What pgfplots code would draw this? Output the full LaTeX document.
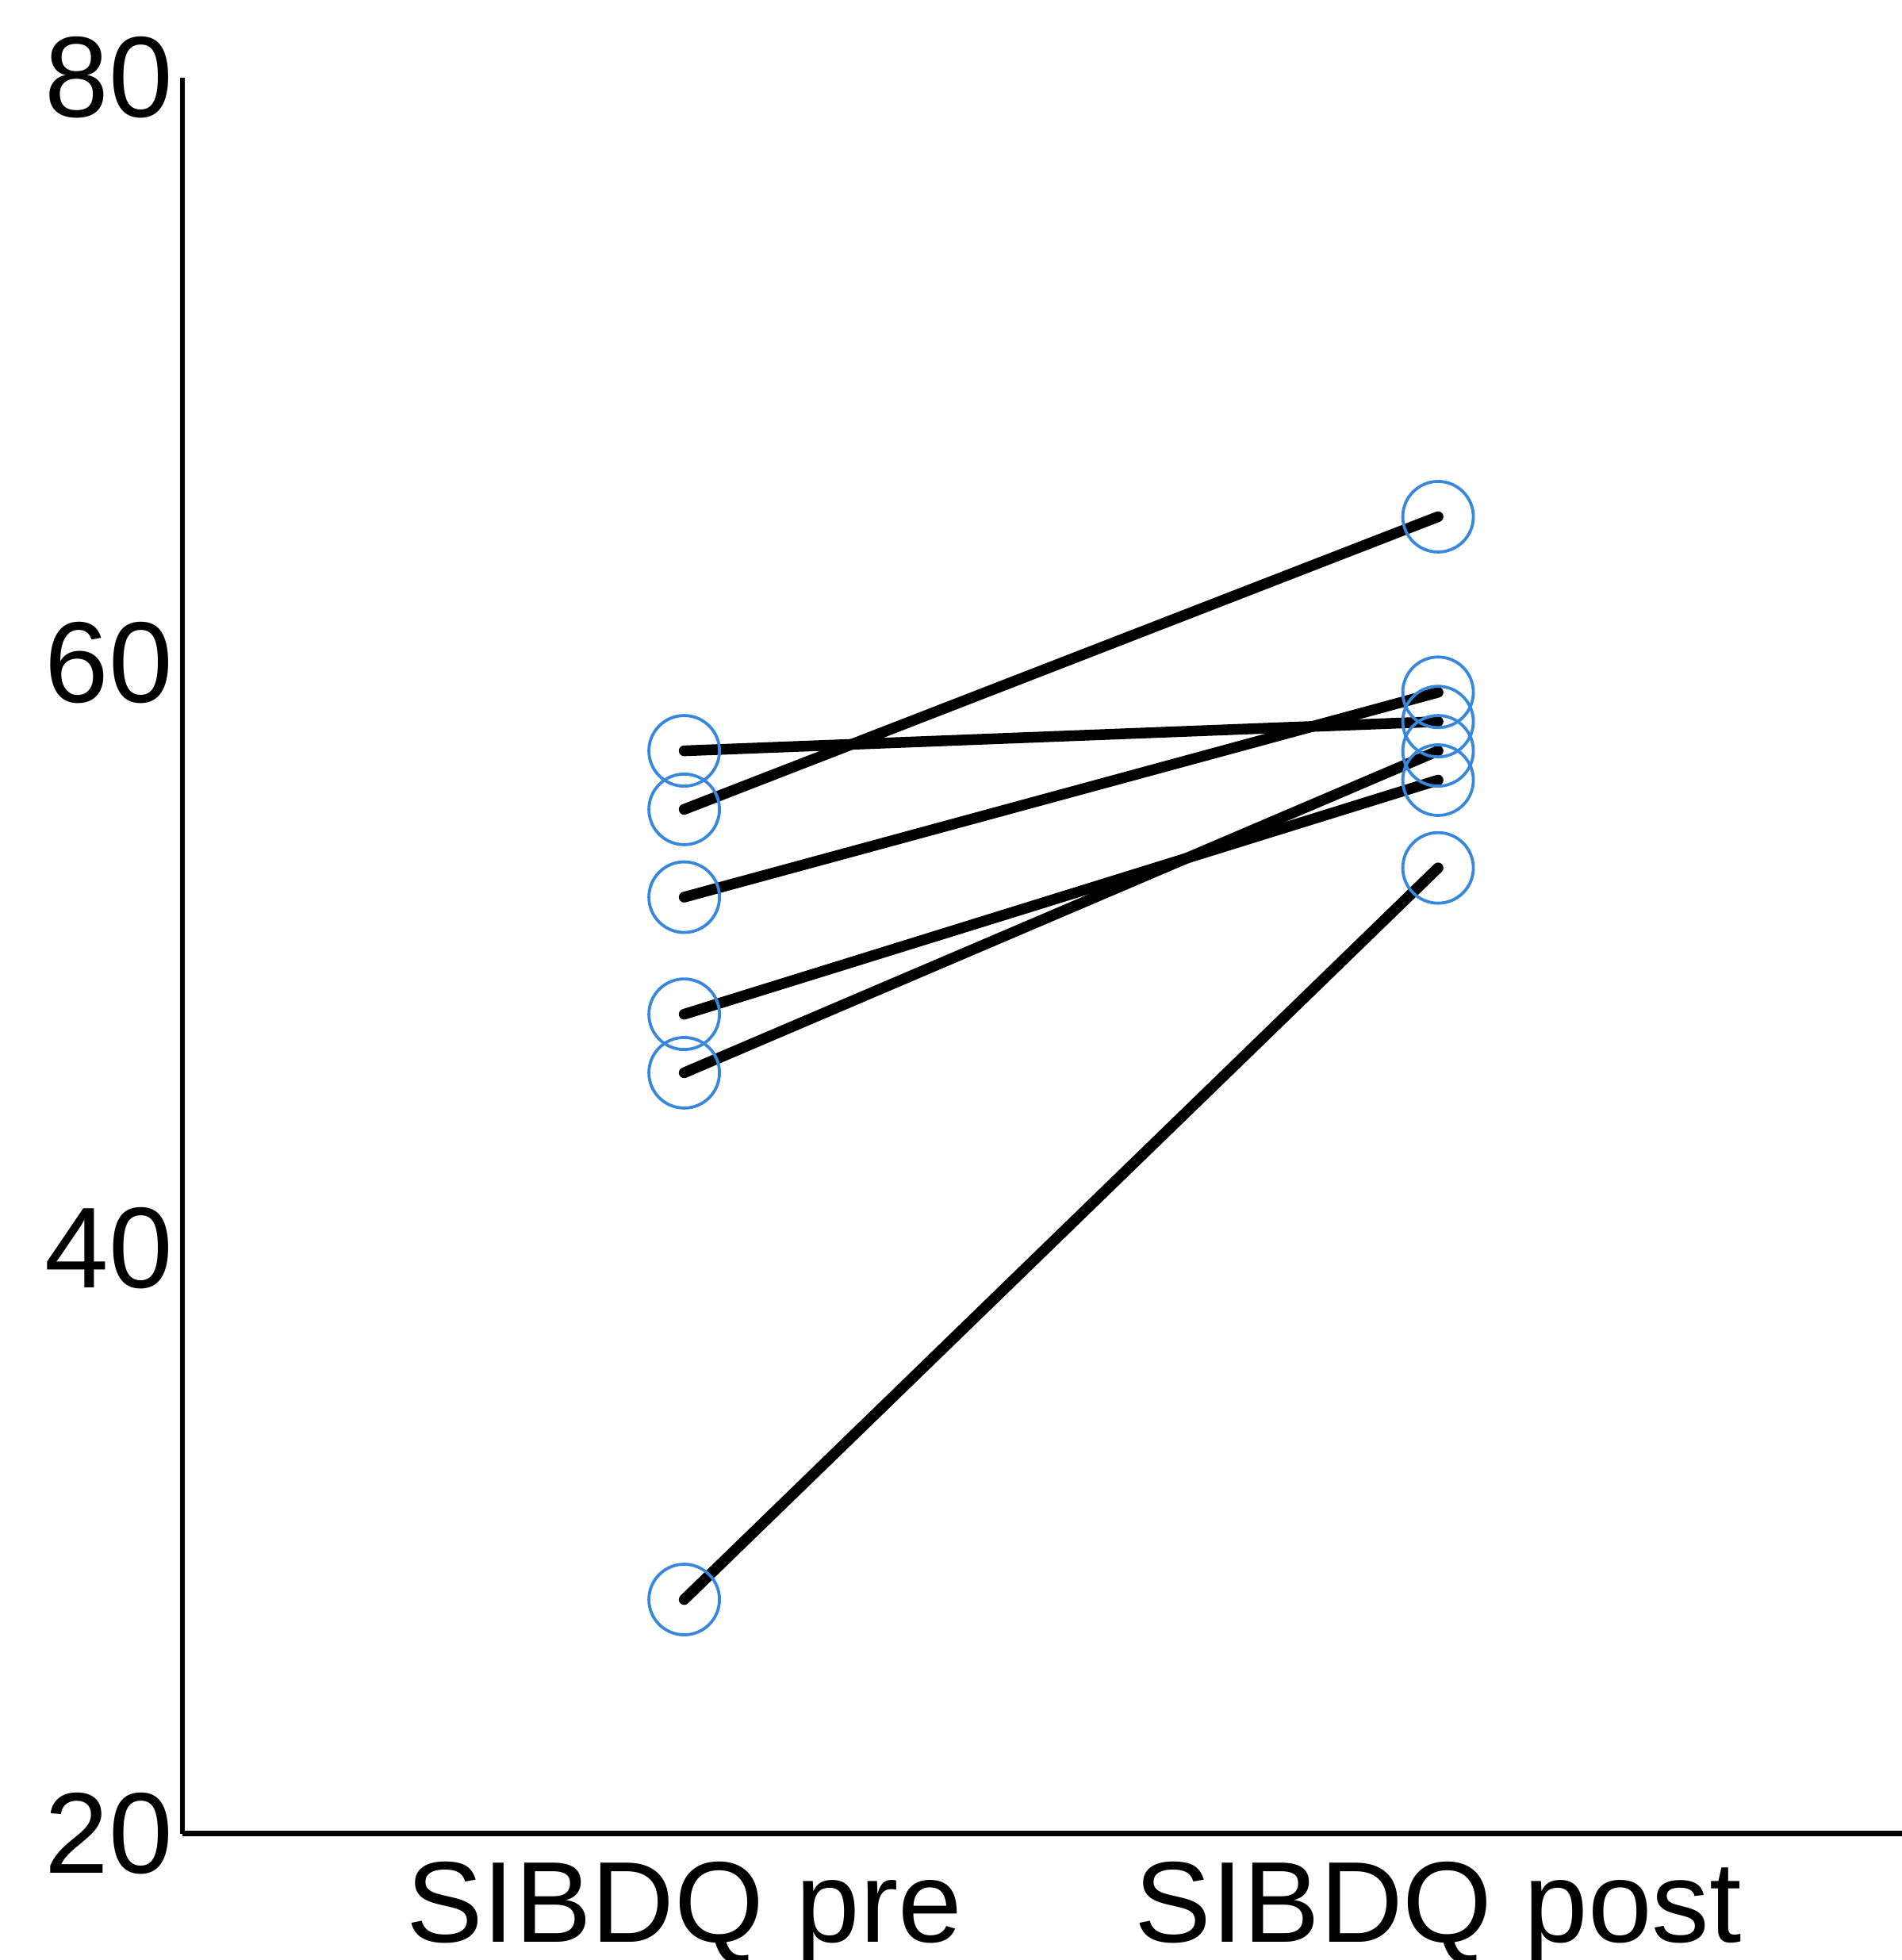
\documentclass[border=0pt]{standalone}
\usepackage{fontspec}
\setmainfont{Liberation Sans}
\usepackage{pgfplots}
\pgfplotsset{compat=1.18}
\usetikzlibrary{calc}
\definecolor{mk}{RGB}{55,135,220}
\begin{document}
\begin{tikzpicture}
\begin{axis}[name=ax, scale only axis, width=216.8bp, height=221.4bp,
 xmin=0.3344, xmax=2.6151, ymin=20, ymax=80,
 axis x line*=bottom, axis y line*=left,
 axis line style={line width=0.67bp, black},
 xtick={1,2}, xticklabels={SIBDQ pre, SIBDQ post},
 ytick={20,40,60,80},
 major tick length=0pt,
 tick label style={font=\fontsize{14.5bp}{17bp}\selectfont},
 /pgf/number format/assume math mode=true,
 xticklabel style={inner ysep=3.4bp},
 yticklabel style={inner xsep=1bp},
 clip=false,
]
\addplot[black, line width=1.35bp, line cap=round, no markers] coordinates {(1,57) (2,58)};
\addplot[black, line width=1.35bp, line cap=round, no markers] coordinates {(1,55) (2,65)};
\addplot[black, line width=1.35bp, line cap=round, no markers] coordinates {(1,52) (2,59)};
\addplot[black, line width=1.35bp, line cap=round, no markers] coordinates {(1,48) (2,56)};
\addplot[black, line width=1.35bp, line cap=round, no markers] coordinates {(1,46) (2,57)};
\addplot[black, line width=1.35bp, line cap=round, no markers] coordinates {(1,28) (2,53)};
\addplot[only marks, mark=o, color=mk, mark size=4.45bp, line width=0.38bp] coordinates {
(1,57) (1,55) (1,52) (1,48) (1,46) (1,28)
(2,58) (2,65) (2,59) (2,56) (2,57) (2,53)};
\end{axis}
\pgfresetboundingbox
\useasboundingbox ($(ax.south west)+(-23bp,-15.93bp)$) rectangle ($(ax.north east)+(0,9.8bp)$);
\end{tikzpicture}
\end{document}
